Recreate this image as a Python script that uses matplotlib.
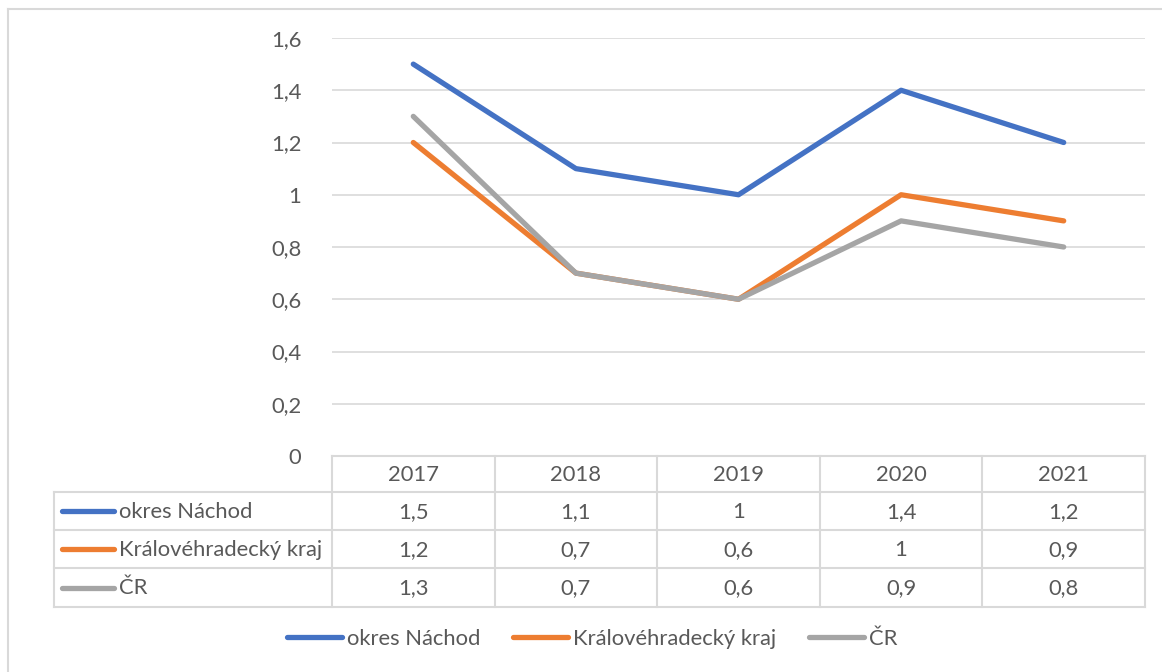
import matplotlib
matplotlib.use("Agg")
import matplotlib.pyplot as plt
from matplotlib.lines import Line2D

years = ["2017", "2018", "2019", "2020", "2021"]
series_names = ["okres Náchod", "Královéhradecký kraj", "ČR"]
nachod = [1.5, 1.1, 1.0, 1.4, 1.2]
kraj = [1.2, 0.7, 0.6, 1.0, 0.9]
cr = [1.3, 0.7, 0.6, 0.9, 0.8]
yticks = [0, 0.2, 0.4, 0.6, 0.8, 1.0, 1.2, 1.4, 1.6]

series = [nachod, kraj, cr]
colors = ["#4472C4", "#ED7D31", "#A5A5A5"]
text_color = "#595959"
grid_color = "#D9D9D9"
plt.rcParams['font.family'] = ['Lato', 'DejaVu Sans']
FS = 15.8

W, H = 1162, 672
fig = plt.figure(figsize=(W / 100, H / 100), dpi=100)

def fx(px):
    return px / W

def fy(py):
    return 1 - py / H

# overlay axes in pixel coordinates for table/legend/border
ov = fig.add_axes([0, 0, 1, 1], zorder=0)
ov.set_xlim(0, W)
ov.set_ylim(H, 0)
ov.axis("off")

# plot area
x0, x1 = 332, 1145
ytop, ybot = 38, 456
ax = fig.add_axes([fx(x0), fy(ybot), fx(x1) - fx(x0), fy(ytop) - fy(ybot)], zorder=2)
ax.patch.set_alpha(0)
n = len(years)
xs = list(range(n))
ax.set_xlim(-0.5, n - 0.5)
ax.set_ylim(0, 1.6)
ax.set_yticks(yticks)
ax.set_yticklabels([("%g" % v).replace(".", ",") for v in yticks], color=text_color, fontsize=FS)
ax.tick_params(axis="y", length=0, pad=22)
ax.set_xticks([])
for s in ax.spines.values():
    s.set_visible(False)
ax.grid(axis="y", color=grid_color, linewidth=1.2)
ax.set_axisbelow(True)
for vals, c in zip(series, colors):
    ax.plot(xs, vals, color=c, linewidth=3.8, solid_capstyle="round", solid_joinstyle="round", clip_on=False)

# outer border (top and left)
ov.plot([8, W], [9, 9], color=grid_color, lw=1.5)
ov.plot([8, 8], [9, H], color=grid_color, lw=1.5)

# data table
colw = (x1 - x0) / n
row_edges = [456, 492, 530, 568, 607]
lc = "#D9D9D9"
lw = 1.5
tbl_left = 54
ov.plot([x0, x1], [row_edges[0], row_edges[0]], color=lc, lw=lw)
for r in row_edges[1:]:
    ov.plot([tbl_left, x1], [r, r], color=lc, lw=lw)
for i in range(n + 1):
    xx = x0 + i * colw
    ov.plot([xx, xx], [row_edges[0], row_edges[-1]], color=lc, lw=lw)
ov.plot([tbl_left, tbl_left], [row_edges[1], row_edges[-1]], color=lc, lw=lw)

def fmt(v):
    return ("%g" % v).replace(".", ",")

for i, y in enumerate(years):
    ov.text(x0 + (i + 0.5) * colw, (row_edges[0] + row_edges[1]) / 2 + 1, y,
            ha="center", va="center", fontsize=FS, color=text_color)
for r, (name, vals, c) in enumerate(zip(series_names, series, colors)):
    yc = (row_edges[r + 1] + row_edges[r + 2]) / 2
    for i, v in enumerate(vals):
        ov.text(x0 + (i + 0.5) * colw, yc + 1, fmt(v), ha="center", va="center",
                fontsize=FS, color=text_color)
    ov.plot([62, 114], [yc, yc], color=c, lw=3.8, solid_capstyle="round")
    ov.text(119, yc + 1, name, ha="left", va="center", fontsize=FS, color=text_color)

# bottom legend
handles = [Line2D([0], [0], color=c, lw=3.8, solid_capstyle="round") for c in colors]
leg = fig.legend(handles, series_names, loc="center", bbox_to_anchor=(fx(592), fy(639)),
                 ncol=3, frameon=False, fontsize=FS, handlelength=2.5, handletextpad=0.23,
                 columnspacing=1.5, labelcolor=text_color)

fig.savefig("out.png", dpi=100)
